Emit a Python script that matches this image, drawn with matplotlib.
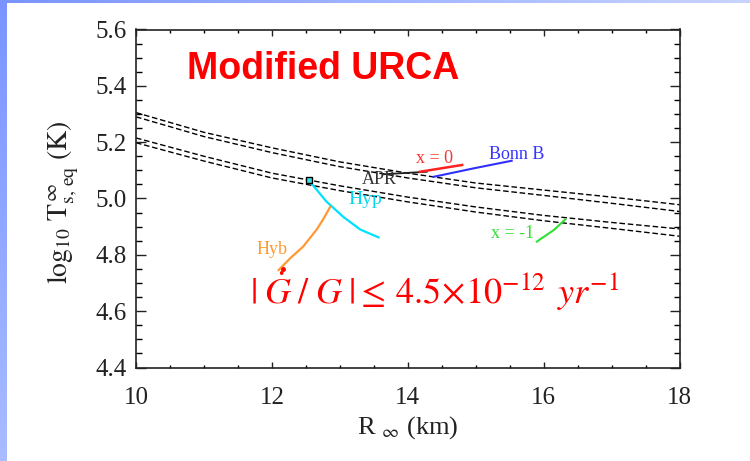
import numpy as np
import matplotlib
matplotlib.use("Agg")
import matplotlib.pyplot as plt
from matplotlib.ticker import MultipleLocator, FormatStrFormatter

plt.rcParams['font.family'] = ['Liberation Serif', 'DejaVu Serif']
plt.rcParams['mathtext.fontset'] = 'stix'

# Equilibrium-temperature bands (two dashed curves per band)
r_band = [10, 11, 12, 13, 14, 15, 16, 17, 18]
band_upper_a = [5.305, 5.235, 5.180, 5.130, 5.090, 5.055, 5.030, 5.005, 4.978]
band_upper_b = [5.290, 5.220, 5.163, 5.113, 5.073, 5.038, 5.011, 4.983, 4.954]
band_lower_a = [5.215, 5.150, 5.090, 5.045, 5.005, 4.970, 4.940, 4.915, 4.892]
band_lower_b = [5.198, 5.133, 5.073, 5.028, 4.988, 4.952, 4.921, 4.894, 4.866]

# Equation-of-state tracks
apr_r = [13.64, 14.28]
apr_t = [5.086, 5.095]
x0_r = [14.18, 14.80]
x0_t = [5.095, 5.119]
bonn_r = [14.38, 14.97, 15.53]
bonn_t = [5.077, 5.107, 5.134]
xm1_r = [15.90, 16.15, 16.32]
xm1_t = [4.847, 4.888, 4.926]
hyp_r = [12.56, 12.80, 13.05, 13.30, 13.57]
hyp_t = [5.060, 4.990, 4.935, 4.890, 4.862]
hyb_r = [12.857, 12.76, 12.66, 12.46, 12.27, 12.10]
hyb_t = [4.970, 4.928, 4.890, 4.829, 4.788, 4.746]
square_r, square_t = 12.55, 5.066
dot_r, dot_t = 12.17, 4.749

W, H = 750, 461
fig = plt.figure(figsize=(W / 100, H / 100), dpi=100)

# slide background: white with blue gradient strips on the left and top
bg = np.ones((H, W, 3))
top_c = np.array([122, 148, 255]) / 255
bot_c = np.array([168, 188, 255]) / 255
right_c = np.array([200, 212, 255]) / 255
fy = np.linspace(0, 1, H)[:, None]
bg[:, :7, :] = (top_c * (1 - fy) + bot_c * fy)[:, None, :]
fx = np.linspace(0, 1, W)[:, None]
bg[:4, :, :] = (top_c * (1 - fx) + right_c * fx)[None, :, :]
bax = fig.add_axes([0, 0, 1, 1], zorder=-5)
bax.imshow(bg, aspect='auto', interpolation='bilinear')
bax.axis('off')

ax = fig.add_axes([136 / W, 1 - 367.5 / H, (679.5 - 136) / W, (367.5 - 29.5) / H])
ax.set_facecolor('white')

for ys in (band_upper_a, band_upper_b, band_lower_a, band_lower_b):
    ax.plot(r_band, ys, color='black', lw=1.0, dashes=(4, 2))

ax.plot(apr_r, apr_t, color='#222222', lw=1.3)
ax.plot(x0_r, x0_t, color='#ff2020', lw=1.8)
ax.plot(bonn_r, bonn_t, color='#3030ff', lw=1.5)
ax.plot(xm1_r, xm1_t, color='#30e030', lw=1.5)
ax.plot(hyp_r, hyp_t, color='#00e0ff', lw=1.6)
ax.plot(hyb_r, hyb_t, color='#ff9933', lw=1.6)
ax.plot([square_r], [square_t], marker='s', ms=4.5, mfc='#40e0e0', mec='black', mew=1.0)
ax.plot([dot_r], [dot_t], marker='o', ms=2.5, color='red')

lab = dict(fontsize=13, ha='center', va='center')
ax.text(14.40, 5.142, 'x = 0', color='#ff3030', **lab)
ax.text(15.60, 5.155, 'Bonn B', color='#3535ff', **lab)
ax.text(13.58, 5.068, 'APR', color='#333333', **lab)
ax.text(13.38, 4.996, 'Hyp', color='#00d8f0', fontsize=14, ha='center', va='center')
ax.text(12.0, 4.818, 'Hyb', color='#ff9933', **lab)
ax.text(15.55, 4.876, 'x = -1', color='#30e030', **lab)

ax.text(0.093, 0.882, 'Modified URCA', transform=ax.transAxes, color='red',
        fontsize=27, fontweight='bold', family='Liberation Sans', ha='left', va='center')
ax.text(0.21, 0.226,
        r'$|\;\dot{G}\;/\;G\;|\leq\, 4.5\!\times\!10^{-12}\;\, yr^{-1}$',
        transform=ax.transAxes, color='red', fontsize=26, ha='left', va='center')

ax.set_xlim(10, 18)
ax.set_ylim(4.4, 5.6)
ax.xaxis.set_major_locator(MultipleLocator(2))
ax.xaxis.set_minor_locator(MultipleLocator(0.5))
ax.yaxis.set_major_locator(MultipleLocator(0.2))
ax.yaxis.set_minor_locator(MultipleLocator(0.05))
ax.yaxis.set_major_formatter(FormatStrFormatter('%.1f'))
ax.tick_params(axis='x', which='major', direction='in', top=True, length=4.5, width=1.0,
               labelsize=18, pad=14, colors='#222222')
ax.tick_params(axis='x', which='minor', direction='in', top=True, length=2.5, width=1.0)
ax.tick_params(axis='y', which='major', direction='in', right=True, length=7.5, width=1.0,
               labelsize=18, pad=7, colors='#222222')
ax.tick_params(axis='y', which='minor', direction='in', right=True, length=4.5, width=1.0)
for s in ax.spines.values():
    s.set_linewidth(1.2)
    s.set_color('#222222')

ax.set_xlabel(r'R $_{\infty}$ (km)', fontsize=19, color='#222222', labelpad=4)
ax.set_ylabel(r'$\log_{10}\,\mathrm{T}^{\,\infty}_{\mathrm{s,\,eq}}\ \mathrm{(K)}$',
              fontsize=20, color='#222222')
ax.yaxis.set_label_coords(-0.102, 0.49)

fig.savefig('out.png', dpi=100)
